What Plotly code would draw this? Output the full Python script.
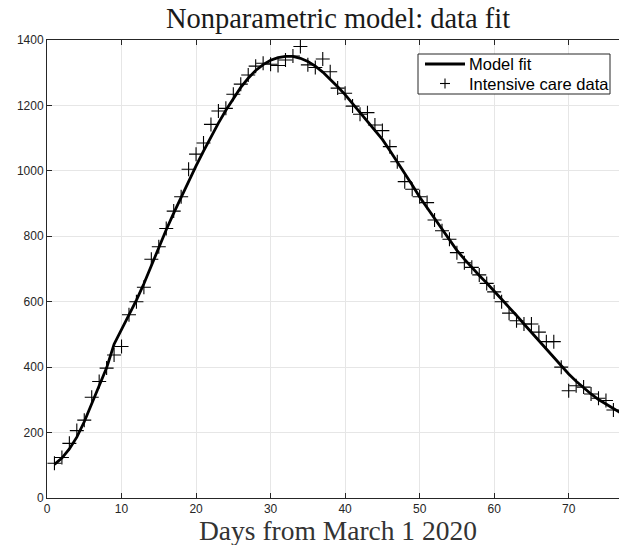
import plotly.graph_objects as go

# Observed intensive-care occupancy (days from March 1 2020)
days = list(range(1, 77))
icu_data = [106, 124, 167, 206, 238, 308, 356, 397, 437, 463,
            560, 600, 644, 730, 768, 824, 877, 921, 1005, 1051,
            1085, 1142, 1183, 1191, 1234, 1265, 1293, 1320, 1329, 1326,
            1322, 1339, 1351, 1380, 1324, 1316, 1342, 1303, 1253, 1237,
            1198, 1173, 1178, 1140, 1123, 1074, 1028, 967, 944, 921,
            903, 850, 817, 791, 750, 719, 705, 682, 656, 630,
            600, 565, 542, 532, 532, 507, 478, 478, 400, 328,
            343, 339, 318, 305, 298, 269]

# Model fit curve
model_days = list(range(1, 78))
model_fit = [103, 122, 150, 186, 233, 288, 348, 398, 470, 515,
             558, 605, 655, 712, 768, 820, 871, 920, 968, 1015,
             1060, 1104, 1146, 1185, 1222, 1255, 1283, 1307, 1325, 1338,
             1346, 1350, 1350, 1344, 1334, 1320, 1302, 1281, 1257, 1233,
             1206, 1178, 1150, 1122, 1096, 1062, 1028, 993, 957, 920,
             887, 855, 822, 790, 757, 730, 704, 680, 657, 633,
             608, 583, 558, 532, 506, 480, 454, 428, 402, 379,
             357, 337, 318, 301, 287, 273, 260]

x_ticks = [0, 10, 20, 30, 40, 50, 60, 70]
y_ticks = [0, 200, 400, 600, 800, 1000, 1200, 1400]
legend_labels = ['Model fit', 'Intensive care data']

W, H = 619, 545
L, R, T, B = 47, 0, 40, 47
PW, PH = W - L - R, H - T - B


def px(xp):
    return (xp - L) / PW


def py(yp):
    return (H - B - yp) / PH


fig = go.Figure()
fig.add_trace(go.Scatter(x=model_days, y=model_fit, mode='lines',
                         line=dict(color='black', width=2.8),
                         name=legend_labels[0], showlegend=False))
fig.add_trace(go.Scatter(x=days, y=icu_data, mode='markers',
                         marker=dict(symbol='cross-thin', size=10, color='black',
                                     line=dict(color='black', width=1.1)),
                         name=legend_labels[1], showlegend=False))

axis_common = dict(
    ticks='inside', ticklen=5, tickcolor='#262626', tickwidth=1,
    showline=True, linecolor='#262626', linewidth=1,
    showgrid=True, gridcolor='#e6e6e6', gridwidth=1, zeroline=False,
    tickfont=dict(family='Liberation Sans, Arial, sans-serif', size=12, color='#262626'),
)

# Legend drawn as a bordered box (MATLAB style)
shapes = [
    dict(type='rect', xref='paper', yref='paper',
         x0=px(418), x1=px(610), y0=py(54), y1=py(94),
         line=dict(color='#262626', width=1), fillcolor='white', layer='above'),
    dict(type='line', xref='paper', yref='paper',
         x0=px(425), x1=px(465), y0=py(64), y1=py(64),
         line=dict(color='black', width=2.8), layer='above'),
    dict(type='line', xref='paper', yref='paper',
         x0=px(440), x1=px(450), y0=py(83.5), y1=py(83.5),
         line=dict(color='black', width=1.1), layer='above'),
    dict(type='line', xref='paper', yref='paper',
         x0=px(445), x1=px(445), y0=py(78.5), y1=py(88.5),
         line=dict(color='black', width=1.1), layer='above'),
]

legend_font = dict(family='Liberation Sans, Arial, sans-serif', size=16.5, color='black')
annotations = [
    dict(text=legend_labels[0], xref='paper', yref='paper', x=px(467), y=py(64),
         xanchor='left', yanchor='middle', showarrow=False, font=legend_font),
    dict(text=legend_labels[1], xref='paper', yref='paper', x=px(467), y=py(83.5),
         xanchor='left', yanchor='middle', showarrow=False, font=legend_font),
    dict(text='Days from March 1 2020', xref='paper', yref='paper',
         x=px(338), y=py(530), xanchor='center', yanchor='middle', showarrow=False,
         font=dict(family='Liberation Serif, serif', size=27.5, color='#333333')),
]

fig.update_layout(
    width=W, height=H,
    margin=dict(l=L, r=R, t=T, b=B),
    paper_bgcolor='white', plot_bgcolor='white',
    title=dict(text='Nonparametric model: data fit',
               font=dict(family='Liberation Serif, serif', size=28.5, color='#1a1a1a'),
               x=338 / W, xref='container', xanchor='center',
               y=1 - 18 / H, yref='container', yanchor='middle'),
    xaxis=dict(range=[0, 76.75], tickvals=x_ticks, mirror='ticks', **axis_common),
    yaxis=dict(range=[0, 1400], tickvals=y_ticks, mirror=False, **axis_common),
    showlegend=False,
    shapes=shapes,
    annotations=annotations,
)

fig.write_html('out.html')
